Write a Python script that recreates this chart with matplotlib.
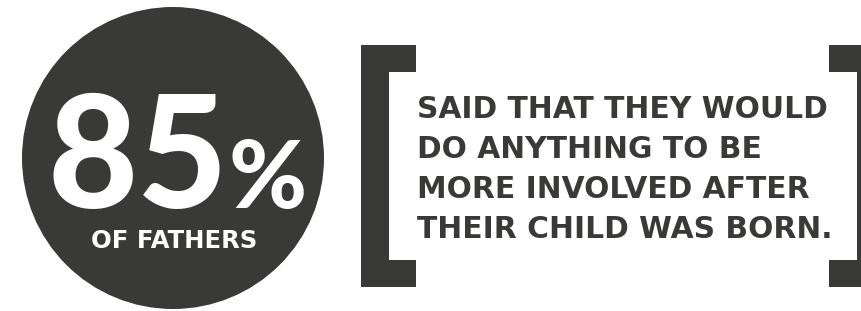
import matplotlib
matplotlib.use("Agg")
import matplotlib.pyplot as plt
from matplotlib.patches import Circle, Rectangle

# values
percent = 85
circle_label = "OF FATHERS"
quote_lines = [
    "SAID THAT THEY WOULD",
    "DO ANYTHING TO BE",
    "MORE INVOLVED AFTER",
    "THEIR CHILD WAS BORN.",
]

DARK = "#393a37"
BIG_FONT = ["Lato", "DejaVu Sans"]
FONT = ["DejaVu Sans"]

fig = plt.figure(figsize=(8.62, 3.11), dpi=100)
ax = fig.add_axes([0, 0, 1, 1])
ax.set_xlim(0, 862)
ax.set_ylim(311, 0)
ax.set_aspect("equal")
ax.axis("off")

# big circle
ax.add_patch(Circle((173, 158), 151, color=DARK, lw=0))

ax.text(228, 208, f"{percent}", color="white", fontsize=112,
        fontweight="black", family=BIG_FONT, ha="right", va="baseline")
ax.text(229, 208, "%", color="white", fontsize=68,
        fontweight="black", family=BIG_FONT, ha="left", va="baseline")
ax.text(174, 248, circle_label, color="white", fontsize=17.5,
        fontweight="bold", family=FONT, ha="center", va="baseline")

# brackets
def bracket(x_bar, x_serif, top, bottom, thick=28, serif=55, serif_h=27):
    ax.add_patch(Rectangle((x_bar, top), thick, bottom - top, color=DARK, lw=0))
    ax.add_patch(Rectangle((x_serif, top), serif, serif_h, color=DARK, lw=0))
    ax.add_patch(Rectangle((x_serif, bottom - serif_h), serif, serif_h,
                           color=DARK, lw=0))

bracket(361, 361, 45, 287)
bracket(857, 829, 45, 287)

for i, line in enumerate(quote_lines):
    ax.text(417, 118 + 40 * i, line, color=DARK, fontsize=21.4,
            fontweight="bold", family=FONT, ha="left", va="baseline")

fig.savefig("out.png", dpi=100)
